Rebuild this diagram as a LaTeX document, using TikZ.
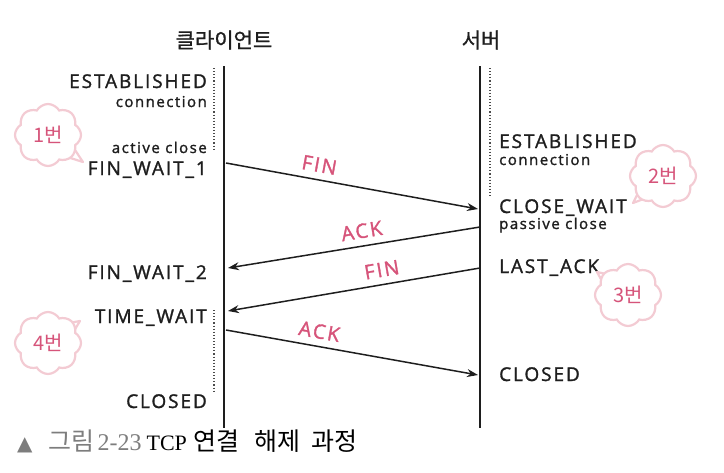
\documentclass[tikz,border=0pt]{standalone}
\usepackage{fontspec}
\setmainfont{Open Sans}[LetterSpace=10, FakeBold=1.5]
\newfontfamily\kr{Noto Sans CJK KR}
\newfontfamily\krb{Noto Sans CJK KR}[FakeBold=1]
\newfontfamily\capserif{Liberation Serif}
\newfontfamily\symfont{DejaVu Sans}
\usetikzlibrary{arrows.meta,shapes.symbols}
\definecolor{pinktxt}{RGB}{214,84,122}
\definecolor{cloudln}{RGB}{243,203,211}
\definecolor{capgray}{RGB}{125,125,125}
\definecolor{ink}{RGB}{30,30,30}
\begin{document}
\begin{tikzpicture}[x=1pt,y=-1pt,
  state/.style={font=\fontsize{19}{19}\selectfont, inner sep=0pt, text=ink},
  sub/.style={font=\fontsize{15}{15}\selectfont, inner sep=0pt, text=ink},
  title/.style={font=\krb\fontsize{21}{21}\selectfont, inner sep=0pt, text=ink},
  lifeline/.style={line width=2.6pt, ink},
  phase/.style={dotted, line width=1.1pt, ink!80},
  msg/.style={line width=1.5pt, ink, -{Stealth[length=11pt,width=8pt]}},
  lbl/.style={sloped, above=7pt, pos=#1, inner sep=0pt, text=pinktxt,
              font=\fontsize{20}{20}\selectfont},
  puff/.style={cloud, cloud puffs=8, cloud puff arc=120, aspect=1.05,
               minimum width=66pt, minimum height=62pt, inner sep=0pt,
               draw=cloudln, line width=2.2pt, fill=white, text=pinktxt,
               font=\kr\fontsize{20}{20}\selectfont},
  tail/.style={draw=cloudln, line width=2.2pt, fill=white, line join=round}
]
\useasboundingbox (0,0) rectangle (724,472);

% titles
\node[title] (tc) at (224,40) {클라이언트};
\node[title] (ts) at (481,40) {서버};

% lifelines
\coordinate (ctop) at (224,66);
\coordinate (cbot) at (224,428);
\coordinate (stop) at (480,66);
\coordinate (sbot) at (480,428);
\draw[lifeline] (ctop) -- (cbot);
\draw[lifeline] (stop) -- (sbot);

% dotted phases
\coordinate (d1a) at (214,68);  \coordinate (d1b) at (214,150);
\coordinate (d2a) at (214,310); \coordinate (d2b) at (214,392);
\coordinate (d3a) at (490,68);  \coordinate (d3b) at (490,198);
\draw[phase] (d1a) -- (d1b);
\draw[phase] (d2a) -- (d2b);
\draw[phase] (d3a) -- (d3b);

% client states
\node[state, anchor=base east] (cest) at (207,88) {ESTABLISHED};
\node[sub,   anchor=base east] (ccon) at (207,107) {connection};
\node[sub,   anchor=base east] (cact) at (207,153) {active close};
\node[state, anchor=base east] (cfw1) at (207,175) {FIN\_WAIT\_1};
\node[state, anchor=base east] (cfw2) at (207,279) {FIN\_WAIT\_2};
\node[state, anchor=base east] (ctw)  at (207,323) {TIME\_WAIT};
\node[state, anchor=base east] (ccl)  at (207,408) {CLOSED};

% server states
\node[state, anchor=base west] (sest) at (499,148) {ESTABLISHED};
\node[sub,   anchor=base west] (scon) at (499,165) {connection};
\node[state, anchor=base west] (scw)  at (499,213) {CLOSE\_WAIT};
\node[sub,   anchor=base west] (spas) at (499,229) {passive close};
\node[state, anchor=base west] (sla)  at (499,273) {LAST\_ACK};
\node[state, anchor=base west] (scl)  at (499,381) {CLOSED};

% message end points
\coordinate (m1a) at (226,163); \coordinate (m1b) at (478,209);
\coordinate (m2a) at (480,227); \coordinate (m2b) at (228,268);
\coordinate (m3a) at (480,268); \coordinate (m3b) at (228,311);
\coordinate (m4a) at (226,330); \coordinate (m4b) at (478,375);

\draw[msg] (m1a) -- node[lbl=.36] (l1) {FIN} (m1b);
\draw[msg] (m2a) -- node[lbl=.46] (l2) {ACK} (m2b);
\draw[msg] (m3a) -- node[lbl=.38] (l3) {FIN} (m3b);
\draw[msg] (m4a) -- node[lbl=.36] (l4) {ACK} (m4b);

% clouds with tails
\draw[tail] (62.7,155.6) -- (83,162) -- (71.3,144.4);
\node[puff] (k1) at (48,135) {1번};
\draw[tail] (641.8,185.6) -- (633,203) -- (651.2,196.1);
\node[puff] (k2) at (663,176) {2번};
\draw[tail] (613.6,275.6) -- (597,272) -- (605.2,286.8);
\node[puff] (k3) at (628,295) {3번};
\draw[tail] (71.2,335.6) -- (80,321) -- (63.2,324);
\node[puff] (k4) at (48,343) {4번};

% caption
\node[anchor=west, inner sep=0pt, text=black] (cap) at (17,441)
  {{\symfont\fontsize{20}{20}\selectfont\color{capgray}▲}\hspace{16pt}%
   {\kr\fontsize{25}{25}\selectfont\color{capgray}그림}\hspace{3pt}%
   {\capserif\fontsize{24}{24}\selectfont\color{capgray}2-23}\hspace{5pt}%
   {\capserif\fontsize{22}{22}\selectfont TCP}\hspace{7pt}%
   {\kr\fontsize{25}{25}\selectfont 연결}\hspace{15pt}%
   {\kr\fontsize{25}{25}\selectfont 해제}\hspace{11pt}%
   {\kr\fontsize{25}{25}\selectfont 과정}};
\end{tikzpicture}
\end{document}
